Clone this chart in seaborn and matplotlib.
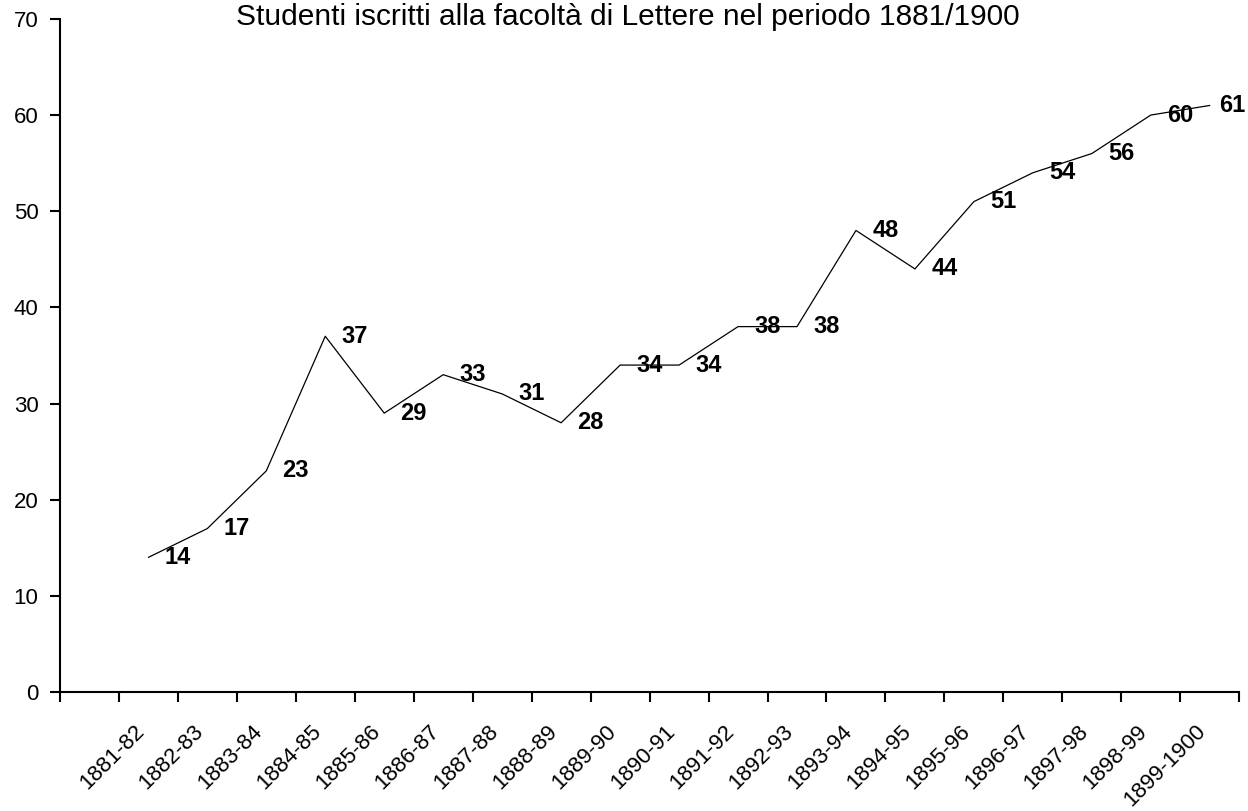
import matplotlib
matplotlib.use("Agg")
import matplotlib.pyplot as plt
import seaborn as sns
import pandas as pd
import numpy as np

# data
anni = ["1881-82", "1882-83", "1883-84", "1884-85", "1885-86", "1886-87",
        "1887-88", "1888-89", "1889-90", "1890-91", "1891-92", "1892-93",
        "1893-94", "1894-95", "1895-96", "1896-97", "1897-98", "1898-99",
        "1899-1900"]
studenti = [14, 17, 23, 37, 29, 33, 31, 28, 34, 34, 38, 38, 48, 44, 51, 54,
            56, 60, 61]

df = pd.DataFrame({"pos": np.arange(len(anni)), "anno": anni, "n": studenti})

sns.set_style("white")
plt.rcParams["font.family"] = ["Liberation Sans", "DejaVu Sans"]
plt.rcParams["text.color"] = "black"
plt.rcParams["xtick.color"] = "black"
plt.rcParams["ytick.color"] = "black"

fig = plt.figure(figsize=(12.48, 8.11), dpi=100)
ax = fig.add_axes([0.048, 0.1467, 0.945, 0.83])

sns.lineplot(data=df, x="pos", y="n", color="black", linewidth=0.9, ax=ax)

xmax = 18.5
for p, v in zip(df["pos"], df["n"]):
    # excel keeps the label inside the plot area
    off = min(0.5, xmax - p - 0.12)
    ax.text(p + off, v, str(v), ha="center", va="center",
            fontsize=17, fontweight="bold")

ax.set_xlim(-1.5, xmax)
ax.set_ylim(0, 70)
ax.set_yticks(range(0, 71, 10))
ax.set_xticks(np.arange(-1.5, 18.6, 1))
ax.set_xticklabels([])
# invisible minor ticks carry the category labels, nudged a bit left
ax.set_xticks(df["pos"] - 0.12, minor=True)
ax.set_xticklabels(anni, minor=True, rotation=45, ha="right", va="center",
                   rotation_mode="anchor", fontsize=16)
ax.tick_params(axis="x", which="minor", length=0, pad=26)
ax.tick_params(axis="x", which="major", direction="out", length=7.5,
               width=1.5, bottom=True)
ax.tick_params(axis="y", direction="out", length=7.5, width=1.5, left=True,
               labelsize=16, pad=8)
ax.set_xlabel("")
ax.set_ylabel("")
for s in ["top", "right"]:
    ax.spines[s].set_visible(False)
for s in ["left", "bottom"]:
    ax.spines[s].set_color("black")
    ax.spines[s].set_linewidth(1.5)

fig.text(0.503, 0.969, "Studenti iscritti alla facoltà di Lettere nel periodo 1881/1900",
         ha="center", va="baseline", fontsize=21.5)

fig.savefig("out.png", dpi=100)
